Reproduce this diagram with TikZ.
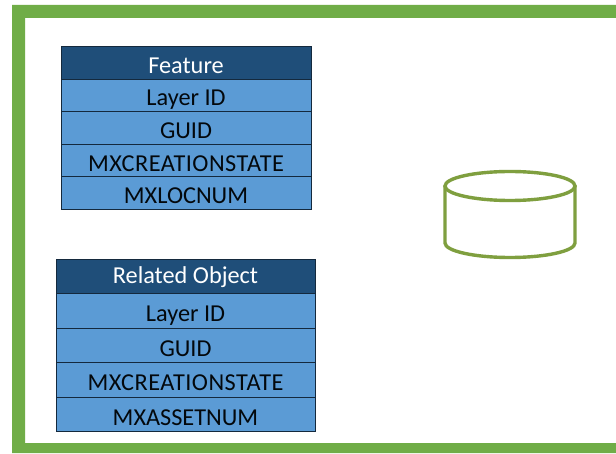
\documentclass[tikz,border=0pt]{standalone}
\usepackage{fontspec}
\setmainfont{Carlito}
\usetikzlibrary{chains,positioning}
\definecolor{framegreen}{HTML}{70AD47}
\definecolor{dbgreen}{HTML}{7F9F3F}
\definecolor{headblue}{HTML}{1F4E79}
\definecolor{rowblue}{HTML}{5B9BD5}
\definecolor{edgeblue}{HTML}{14293D}
\tikzset{
  rowbox/.style={
    rectangle,
    minimum width=250pt,
    minimum height=32.6pt,
    inner sep=0pt,
    outer sep=0pt,
    text height=21pt,
    text depth=0pt,
    align=center,
    draw=edgeblue,
    line width=1pt,
    fill=rowblue,
    text=black!90!headblue,
    font=\fontsize{24.3}{26}\selectfont
    },
  headbox/.style={
    rowbox,
    fill=headblue,
    text=white
    },
  tallrow/.style={
    minimum width=259pt,
    minimum height=34.4pt,
    text height=21.5pt
    },
  widerow/.style={
    font=\fontsize{24.3}{26}\selectfont\addfontfeature{LetterSpace=2}
    },
}
\begin{document}
\begin{tikzpicture}[
  x=1pt,y=1pt,
  node distance=0pt,
  dbline/.style={draw=dbgreen,line width=3.4pt}
  ]
\useasboundingbox (0,0) rectangle (616,453);
\fill[white] (0,0) rectangle (616,453);
\fill[framegreen,even odd rule] (12,0) rectangle (616,448) (25,10) rectangle (616,435);
% first table
\begin{scope}[start chain=feature going below]
\node (featurehead) [headbox,on chain,anchor=north west] at (61,406.5) {Feature};
\node (featurelayer) [rowbox,on chain] {Layer ID};
\node (featureguid) [rowbox,on chain] {GUID};
\node (featurestate) [rowbox,widerow,on chain] {MXCREATIONSTATE};
\node (featureloc) [rowbox,on chain] {MXLOCNUM};
\end{scope}
% second table
\begin{scope}[start chain=related going below]
\node (relatedhead) [headbox,tallrow,text height=14pt,on chain,anchor=north west] at (56,193.5) {Related Object};
\node (relatedlayer) [rowbox,tallrow,on chain] {Layer ID};
\node (relatedguid) [rowbox,tallrow,on chain] {GUID};
\node (relatedstate) [rowbox,tallrow,widerow,on chain] {MXCREATIONSTATE};
\node (relatedasset) [rowbox,tallrow,on chain] {MXASSETNUM};
\end{scope}
% database
\draw[dbline] (510,267) ellipse (65 and 14.5);
\draw[dbline,line cap=round] (445,267) -- (445,210) arc (180:360:65 and 14.5) -- (575,267);
\end{tikzpicture}
\end{document}
